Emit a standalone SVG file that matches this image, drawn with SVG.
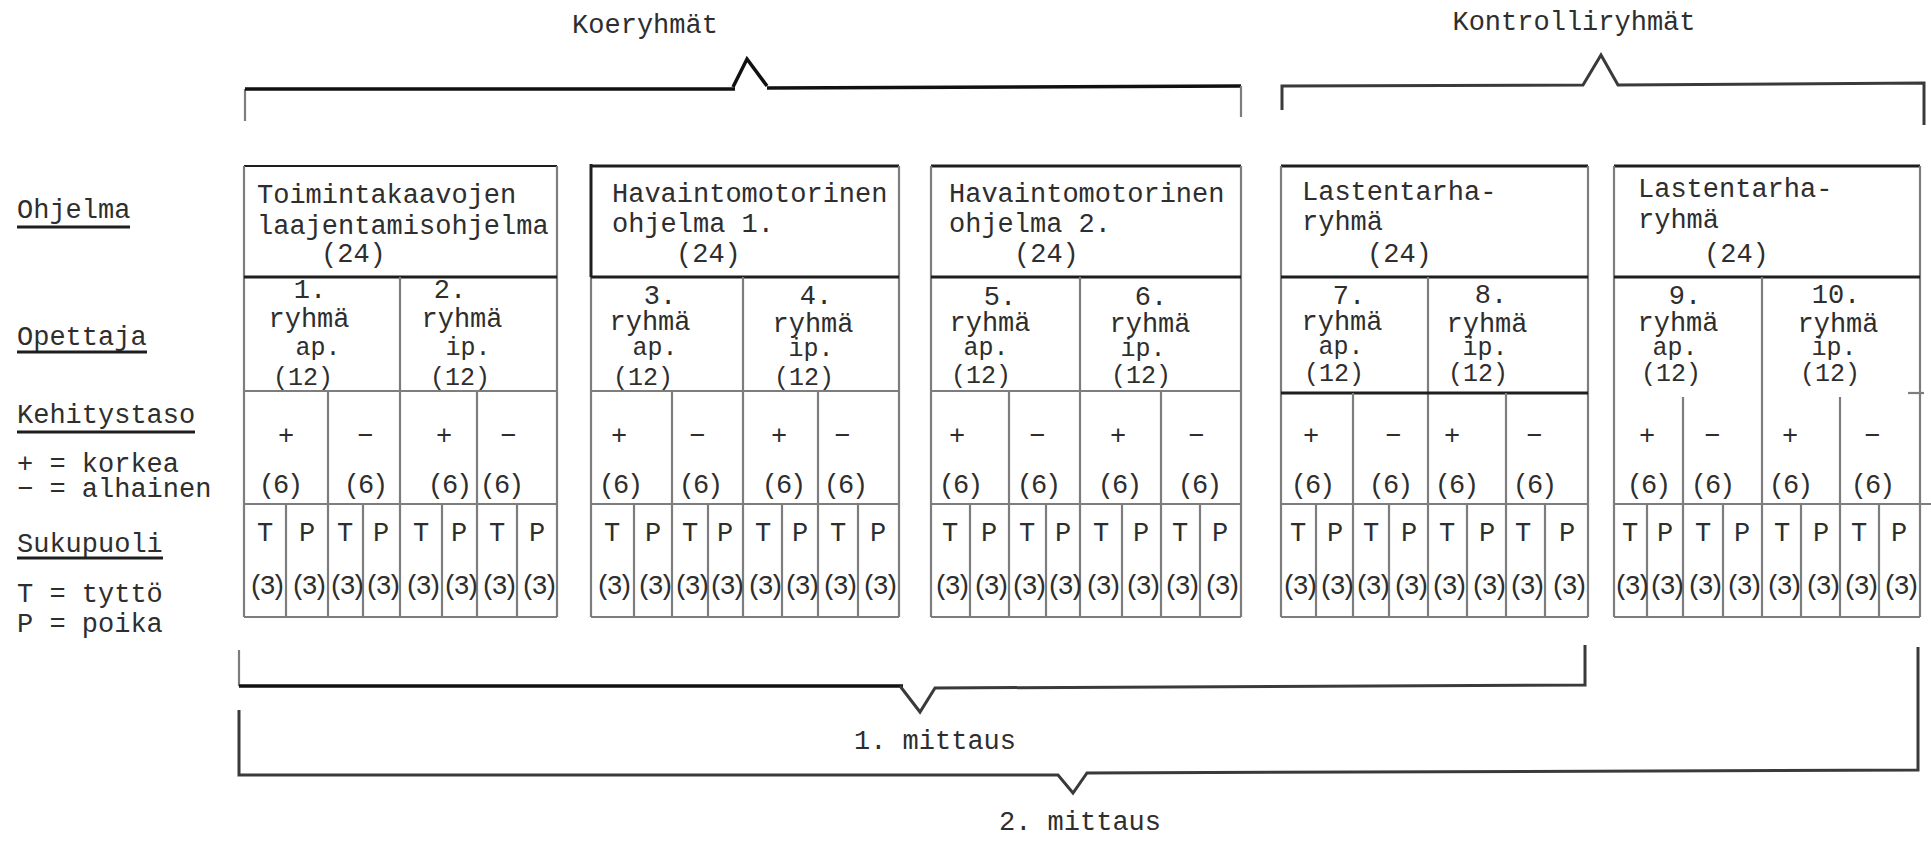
<svg xmlns="http://www.w3.org/2000/svg" width="1931" height="843" viewBox="0 0 1931 843">
  <style>
    .t { font-family: "Liberation Mono", "DejaVu Sans Mono", monospace; font-size: 27px; fill: #2e2e2e; }
    .c { text-anchor: middle; }
    .s { font-size: 25px; }
    .n6 { letter-spacing: -2px; }
    .n3 { letter-spacing: -5px; }
    .g { stroke: #7d7d7d; stroke-width: 2.2; fill: none; }
    .k { stroke: #1e1e1e; stroke-width: 3; fill: none; }
    .kt { stroke: #1e1e1e; stroke-width: 2; fill: none; }
    .br { stroke: #111; stroke-width: 3.5; fill: none; stroke-linejoin: miter; }
    .bg { stroke: #3a3a3a; stroke-width: 3; fill: none; stroke-linejoin: miter; }
    .u { stroke: #1e1e1e; stroke-width: 3; }
  </style>
  <rect width="1931" height="843" fill="#fff"/>

  <!-- row captions on the left -->
  <g id="legend">
    <text class="t" x="17" y="218">Ohjelma</text>
    <line class="u" x1="17" y1="227" x2="130" y2="227"/>
    <text class="t" x="17" y="345">Opettaja</text>
    <line class="u" x1="17" y1="352" x2="147" y2="352"/>
    <text class="t" x="17" y="423">Kehitystaso</text>
    <line class="u" x1="17" y1="432" x2="195" y2="432"/>
    <text class="t" x="17" y="472">+ = korkea</text>
    <text class="t" x="17" y="497">− = alhainen</text>
    <text class="t" x="17" y="552">Sukupuoli</text>
    <line class="u" x1="17" y1="558" x2="163" y2="558"/>
    <text class="t" x="17" y="602">T = tyttö</text>
    <text class="t" x="17" y="632">P = poika</text>
  </g>

  <!-- group captions -->
  <g id="label-koeryhmat"><text class="t c" x="645" y="33">Koeryhmät</text></g>
  <g id="label-kontrolliryhmat"><text class="t c" x="1574" y="30">Kontrolliryhmät</text></g>
  <g id="label-mittaus1"><text class="t c" x="935" y="749">1. mittaus</text></g>
  <g id="label-mittaus2"><text class="t c" x="1080" y="830">2. mittaus</text></g>

  <!-- programme 1 -->
  <g id="box1">
    <line class="kt" x1="244" y1="166" x2="557" y2="166"/>
    <line class="g" x1="244" y1="166" x2="244" y2="617"/>
    <line class="g" x1="557" y1="166" x2="557" y2="617"/>
    <line class="k" x1="244" y1="277" x2="557" y2="277"/>
    <line class="g" x1="400" y1="277" x2="400" y2="617"/>
    <line class="g" x1="244" y1="391" x2="557" y2="391"/>
    <line class="g" x1="328" y1="391" x2="328" y2="617"/>
    <line class="g" x1="477" y1="391" x2="477" y2="617"/>
    <line class="g" x1="244" y1="504" x2="557" y2="504"/>
    <line class="g" x1="286" y1="504" x2="286" y2="617"/>
    <line class="g" x1="363" y1="504" x2="363" y2="617"/>
    <line class="g" x1="442" y1="504" x2="442" y2="617"/>
    <line class="g" x1="517" y1="504" x2="517" y2="617"/>
    <line class="g" x1="244" y1="617" x2="557" y2="617"/>
    <text class="t" x="257" y="203">Toimintakaavojen</text>
    <text class="t" x="257" y="234">laajentamisohjelma</text>
    <text class="t" x="321" y="262">(24)</text>
    <text class="t c" x="310" y="298">1.</text>
    <text class="t c" x="309" y="327">ryhmä</text>
    <text class="t c s" x="318" y="355">ap.</text>
    <text class="t c s" x="303" y="385">(12)</text>
    <text class="t c" x="450" y="298">2.</text>
    <text class="t c" x="462" y="327">ryhmä</text>
    <text class="t c s" x="468" y="355">ip.</text>
    <text class="t c s" x="460" y="385">(12)</text>
    <text class="t c" x="286" y="444">+</text>
    <text class="t c" x="365" y="444">−</text>
    <text class="t c" x="444" y="444">+</text>
    <text class="t c" x="508" y="444">−</text>
    <text class="t c n6" x="280" y="493">(6)</text>
    <text class="t c n6" x="365" y="493">(6)</text>
    <text class="t c n6" x="449" y="493">(6)</text>
    <text class="t c n6" x="501" y="493">(6)</text>
    <text class="t c" x="265" y="541">T</text>
    <text class="t c" x="307" y="541">P</text>
    <text class="t c" x="345" y="541">T</text>
    <text class="t c" x="381" y="541">P</text>
    <text class="t c" x="421" y="541">T</text>
    <text class="t c" x="459" y="541">P</text>
    <text class="t c" x="497" y="541">T</text>
    <text class="t c" x="537" y="541">P</text>
    <text class="t c n3" x="265" y="594">(3)</text>
    <text class="t c n3" x="307" y="594">(3)</text>
    <text class="t c n3" x="345" y="594">(3)</text>
    <text class="t c n3" x="381" y="594">(3)</text>
    <text class="t c n3" x="421" y="594">(3)</text>
    <text class="t c n3" x="459" y="594">(3)</text>
    <text class="t c n3" x="497" y="594">(3)</text>
    <text class="t c n3" x="537" y="594">(3)</text>
  </g>

  <!-- programme 2 -->
  <g id="box2">
    <line class="k" x1="591" y1="166" x2="899" y2="166"/>
    <line class="k" x1="591" y1="164" x2="591" y2="277"/>
    <line class="g" x1="591" y1="277" x2="591" y2="617"/>
    <line class="g" x1="899" y1="166" x2="899" y2="617"/>
    <line class="k" x1="591" y1="277" x2="899" y2="277"/>
    <line class="g" x1="743" y1="277" x2="743" y2="617"/>
    <line class="g" x1="591" y1="391" x2="899" y2="391"/>
    <line class="g" x1="672" y1="391" x2="672" y2="617"/>
    <line class="g" x1="818" y1="391" x2="818" y2="617"/>
    <line class="g" x1="591" y1="504" x2="899" y2="504"/>
    <line class="g" x1="634" y1="504" x2="634" y2="617"/>
    <line class="g" x1="708" y1="504" x2="708" y2="617"/>
    <line class="g" x1="782" y1="504" x2="782" y2="617"/>
    <line class="g" x1="858" y1="504" x2="858" y2="617"/>
    <line class="g" x1="591" y1="617" x2="899" y2="617"/>
    <text class="t" x="612" y="202">Havaintomotorinen</text>
    <text class="t" x="612" y="232">ohjelma 1.</text>
    <text class="t" x="676" y="262">(24)</text>
    <text class="t c" x="660" y="304">3.</text>
    <text class="t c" x="650" y="330">ryhmä</text>
    <text class="t c s" x="655" y="355">ap.</text>
    <text class="t c s" x="643" y="385">(12)</text>
    <text class="t c" x="816" y="304">4.</text>
    <text class="t c" x="813" y="332">ryhmä</text>
    <text class="t c s" x="811" y="356">ip.</text>
    <text class="t c s" x="804" y="385">(12)</text>
    <text class="t c" x="619" y="444">+</text>
    <text class="t c" x="697" y="444">−</text>
    <text class="t c" x="779" y="444">+</text>
    <text class="t c" x="842" y="444">−</text>
    <text class="t c n6" x="620" y="493">(6)</text>
    <text class="t c n6" x="700" y="493">(6)</text>
    <text class="t c n6" x="783" y="493">(6)</text>
    <text class="t c n6" x="845" y="493">(6)</text>
    <text class="t c" x="612" y="541">T</text>
    <text class="t c" x="653" y="541">P</text>
    <text class="t c" x="690" y="541">T</text>
    <text class="t c" x="725" y="541">P</text>
    <text class="t c" x="763" y="541">T</text>
    <text class="t c" x="800" y="541">P</text>
    <text class="t c" x="838" y="541">T</text>
    <text class="t c" x="878" y="541">P</text>
    <text class="t c n3" x="612" y="594">(3)</text>
    <text class="t c n3" x="653" y="594">(3)</text>
    <text class="t c n3" x="690" y="594">(3)</text>
    <text class="t c n3" x="725" y="594">(3)</text>
    <text class="t c n3" x="763" y="594">(3)</text>
    <text class="t c n3" x="800" y="594">(3)</text>
    <text class="t c n3" x="838" y="594">(3)</text>
    <text class="t c n3" x="878" y="594">(3)</text>
  </g>

  <!-- programme 3 -->
  <g id="box3">
    <line class="k" x1="931" y1="166" x2="1241" y2="166"/>
    <line class="g" x1="931" y1="166" x2="931" y2="617"/>
    <line class="g" x1="1241" y1="166" x2="1241" y2="617"/>
    <line class="k" x1="931" y1="277" x2="1241" y2="277"/>
    <line class="g" x1="1080" y1="277" x2="1080" y2="617"/>
    <line class="g" x1="931" y1="391" x2="1241" y2="391"/>
    <line class="g" x1="1009" y1="391" x2="1009" y2="617"/>
    <line class="g" x1="1161" y1="391" x2="1161" y2="617"/>
    <line class="g" x1="931" y1="504" x2="1241" y2="504"/>
    <line class="g" x1="970" y1="504" x2="970" y2="617"/>
    <line class="g" x1="1046" y1="504" x2="1046" y2="617"/>
    <line class="g" x1="1122" y1="504" x2="1122" y2="617"/>
    <line class="g" x1="1200" y1="504" x2="1200" y2="617"/>
    <line class="g" x1="931" y1="617" x2="1241" y2="617"/>
    <text class="t" x="949" y="202">Havaintomotorinen</text>
    <text class="t" x="949" y="232">ohjelma 2.</text>
    <text class="t" x="1014" y="262">(24)</text>
    <text class="t c" x="1000" y="305">5.</text>
    <text class="t c" x="990" y="331">ryhmä</text>
    <text class="t c s" x="986" y="355">ap.</text>
    <text class="t c s" x="981" y="383">(12)</text>
    <text class="t c" x="1151" y="305">6.</text>
    <text class="t c" x="1150" y="332">ryhmä</text>
    <text class="t c s" x="1143" y="356">ip.</text>
    <text class="t c s" x="1141" y="383">(12)</text>
    <text class="t c" x="957" y="444">+</text>
    <text class="t c" x="1037" y="444">−</text>
    <text class="t c" x="1118" y="444">+</text>
    <text class="t c" x="1196" y="444">−</text>
    <text class="t c n6" x="960" y="493">(6)</text>
    <text class="t c n6" x="1038" y="493">(6)</text>
    <text class="t c n6" x="1119" y="493">(6)</text>
    <text class="t c n6" x="1199" y="493">(6)</text>
    <text class="t c" x="950" y="541">T</text>
    <text class="t c" x="989" y="541">P</text>
    <text class="t c" x="1027" y="541">T</text>
    <text class="t c" x="1063" y="541">P</text>
    <text class="t c" x="1101" y="541">T</text>
    <text class="t c" x="1141" y="541">P</text>
    <text class="t c" x="1180" y="541">T</text>
    <text class="t c" x="1220" y="541">P</text>
    <text class="t c n3" x="950" y="594">(3)</text>
    <text class="t c n3" x="989" y="594">(3)</text>
    <text class="t c n3" x="1027" y="594">(3)</text>
    <text class="t c n3" x="1063" y="594">(3)</text>
    <text class="t c n3" x="1101" y="594">(3)</text>
    <text class="t c n3" x="1141" y="594">(3)</text>
    <text class="t c n3" x="1180" y="594">(3)</text>
    <text class="t c n3" x="1220" y="594">(3)</text>
  </g>

  <!-- control group 1 -->
  <g id="box4">
    <line class="k" x1="1281" y1="166" x2="1588" y2="166"/>
    <line class="g" x1="1281" y1="166" x2="1281" y2="617"/>
    <line class="g" x1="1588" y1="166" x2="1588" y2="617"/>
    <line class="k" x1="1281" y1="277" x2="1588" y2="277"/>
    <line class="g" x1="1428" y1="277" x2="1428" y2="617"/>
    <line class="k" x1="1281" y1="393" x2="1588" y2="393"/>
    <line class="g" x1="1353" y1="393" x2="1353" y2="617"/>
    <line class="g" x1="1506" y1="393" x2="1506" y2="617"/>
    <line class="g" x1="1281" y1="504" x2="1588" y2="504"/>
    <line class="g" x1="1316" y1="504" x2="1316" y2="617"/>
    <line class="g" x1="1389" y1="504" x2="1389" y2="617"/>
    <line class="g" x1="1467" y1="504" x2="1467" y2="617"/>
    <line class="g" x1="1545" y1="504" x2="1545" y2="617"/>
    <line class="g" x1="1281" y1="617" x2="1588" y2="617"/>
    <text class="t" x="1302" y="200">Lastentarha-</text>
    <text class="t" x="1302" y="230">ryhmä</text>
    <text class="t" x="1367" y="262">(24)</text>
    <text class="t c" x="1349" y="304">7.</text>
    <text class="t c" x="1342" y="330">ryhmä</text>
    <text class="t c s" x="1341" y="354">ap.</text>
    <text class="t c s" x="1334" y="381">(12)</text>
    <text class="t c" x="1491" y="303">8.</text>
    <text class="t c" x="1487" y="332">ryhmä</text>
    <text class="t c s" x="1485" y="355">ip.</text>
    <text class="t c s" x="1478" y="381">(12)</text>
    <text class="t c" x="1311" y="444">+</text>
    <text class="t c" x="1393" y="444">−</text>
    <text class="t c" x="1452" y="444">+</text>
    <text class="t c" x="1534" y="444">−</text>
    <text class="t c n6" x="1312" y="493">(6)</text>
    <text class="t c n6" x="1390" y="493">(6)</text>
    <text class="t c n6" x="1456" y="493">(6)</text>
    <text class="t c n6" x="1534" y="493">(6)</text>
    <text class="t c" x="1298" y="541">T</text>
    <text class="t c" x="1335" y="541">P</text>
    <text class="t c" x="1371" y="541">T</text>
    <text class="t c" x="1409" y="541">P</text>
    <text class="t c" x="1447" y="541">T</text>
    <text class="t c" x="1487" y="541">P</text>
    <text class="t c" x="1523" y="541">T</text>
    <text class="t c" x="1567" y="541">P</text>
    <text class="t c n3" x="1298" y="594">(3)</text>
    <text class="t c n3" x="1335" y="594">(3)</text>
    <text class="t c n3" x="1371" y="594">(3)</text>
    <text class="t c n3" x="1409" y="594">(3)</text>
    <text class="t c n3" x="1447" y="594">(3)</text>
    <text class="t c n3" x="1487" y="594">(3)</text>
    <text class="t c n3" x="1525" y="594">(3)</text>
    <text class="t c n3" x="1567" y="594">(3)</text>
  </g>

  <!-- control group 2 -->
  <g id="box5">
    <line class="k" x1="1614" y1="166" x2="1920" y2="166"/>
    <line class="g" x1="1614" y1="166" x2="1614" y2="617"/>
    <line class="g" x1="1920" y1="166" x2="1920" y2="617"/>
    <line class="k" x1="1614" y1="277" x2="1920" y2="277"/>
    <line class="g" x1="1762" y1="277" x2="1762" y2="617"/>
    <line class="g" x1="1908" y1="393" x2="1924" y2="393"/>
    <line class="g" x1="1683" y1="397" x2="1683" y2="617"/>
    <line class="g" x1="1840" y1="397" x2="1840" y2="617"/>
    <line class="g" x1="1614" y1="504" x2="1931" y2="504"/>
    <line class="g" x1="1647" y1="504" x2="1647" y2="617"/>
    <line class="g" x1="1723" y1="504" x2="1723" y2="617"/>
    <line class="g" x1="1801" y1="504" x2="1801" y2="617"/>
    <line class="g" x1="1879" y1="504" x2="1879" y2="617"/>
    <line class="g" x1="1614" y1="617" x2="1920" y2="617"/>
    <text class="t" x="1638" y="197">Lastentarha-</text>
    <text class="t" x="1638" y="228">ryhmä</text>
    <text class="t" x="1704" y="262">(24)</text>
    <text class="t c" x="1685" y="304">9.</text>
    <text class="t c" x="1678" y="331">ryhmä</text>
    <text class="t c s" x="1675" y="355">ap.</text>
    <text class="t c s" x="1671" y="381">(12)</text>
    <text class="t c" x="1836" y="303">10.</text>
    <text class="t c" x="1838" y="332">ryhmä</text>
    <text class="t c s" x="1834" y="355">ip.</text>
    <text class="t c s" x="1830" y="381">(12)</text>
    <text class="t c" x="1647" y="444">+</text>
    <text class="t c" x="1712" y="444">−</text>
    <text class="t c" x="1790" y="444">+</text>
    <text class="t c" x="1872" y="444">−</text>
    <text class="t c n6" x="1648" y="493">(6)</text>
    <text class="t c n6" x="1712" y="493">(6)</text>
    <text class="t c n6" x="1790" y="493">(6)</text>
    <text class="t c n6" x="1872" y="493">(6)</text>
    <text class="t c" x="1630" y="541">T</text>
    <text class="t c" x="1665" y="541">P</text>
    <text class="t c" x="1703" y="541">T</text>
    <text class="t c" x="1742" y="541">P</text>
    <text class="t c" x="1782" y="541">T</text>
    <text class="t c" x="1821" y="541">P</text>
    <text class="t c" x="1859" y="541">T</text>
    <text class="t c" x="1899" y="541">P</text>
    <text class="t c n3" x="1630" y="594">(3)</text>
    <text class="t c n3" x="1665" y="594">(3)</text>
    <text class="t c n3" x="1703" y="594">(3)</text>
    <text class="t c n3" x="1742" y="594">(3)</text>
    <text class="t c n3" x="1782" y="594">(3)</text>
    <text class="t c n3" x="1821" y="594">(3)</text>
    <text class="t c n3" x="1859" y="594">(3)</text>
    <text class="t c n3" x="1899" y="594">(3)</text>
  </g>

  <!-- grouping braces -->
  <g id="connectors">
    <!-- experimental groups -->
    <path class="g" d="M245 89 V121"/>
    <path class="br" d="M245 89 H735"/>
    <path class="br" d="M733 87 L747 59 L767 86"/>
    <path class="br" d="M767 88 L1241 86"/>
    <path class="g" d="M1241 86 V117"/>
    <!-- control groups -->
    <path class="bg" d="M1282 110 V86 L1583 85 L1601 55 L1618 85 L1924 83 V125"/>
    <!-- first measurement -->
    <path class="g" d="M239 650 V686"/>
    <path class="br" d="M239 686 H903"/>
    <path class="bg" d="M900 686 L920 712 L935 688 L1585 685 V645"/>
    <!-- second measurement -->
    <path class="bg" d="M239 710 V775 L1058 775 L1073 793 L1087 773 L1918 770 V647"/>
  </g>
</svg>
